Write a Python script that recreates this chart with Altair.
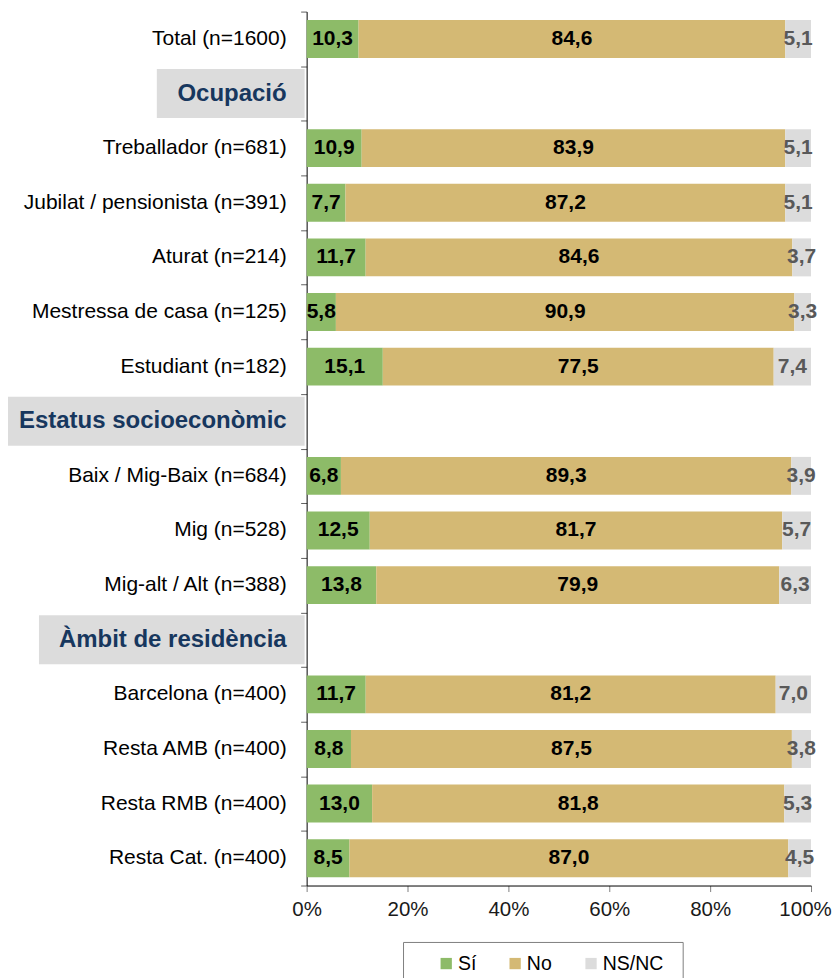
import altair as alt
import pandas as pd

rows = ["Total (n=1600)", "Ocupació", "Treballador (n=681)", "Jubilat / pensionista (n=391)",
        "Aturat (n=214)", "Mestressa de casa (n=125)", "Estudiant (n=182)", "Estatus socioeconòmic",
        "Baix / Mig-Baix (n=684)", "Mig (n=528)", "Mig-alt / Alt (n=388)", "Àmbit de residència",
        "Barcelona (n=400)", "Resta AMB (n=400)", "Resta RMB (n=400)", "Resta Cat. (n=400)"]
headers = ["Ocupació", "Estatus socioeconòmic", "Àmbit de residència"]
series = ["Sí", "No", "NS/NC"]
si = [10.3, None, 10.9, 7.7, 11.7, 5.8, 15.1, None, 6.8, 12.5, 13.8, None, 11.7, 8.8, 13.0, 8.5]
no = [84.6, None, 83.9, 87.2, 84.6, 90.9, 77.5, None, 89.3, 81.7, 79.9, None, 81.2, 87.5, 81.8, 87.0]
nsnc = [5.1, None, 5.1, 5.1, 3.7, 3.3, 7.4, None, 3.9, 5.7, 6.3, None, 7.0, 3.8, 5.3, 4.5]
colors = ["#8DBB68", "#D4B974", "#DCDCDC"]

# style: left extent (px from plot edge) of the grey header boxes
header_box_left = {"Ocupació": 150, "Estatus socioeconòmic": 299, "Àmbit de residència": 268}

FONT = "Liberation Sans"

recs = []
for i, r in enumerate(rows):
    if r in headers:
        continue
    for k, (s, vals) in enumerate(zip(series, [si, no, nsnc])):
        v = vals[i]
        recs.append({"row": r, "serie": s, "value": v, "order": k,
                     "label": f"{v:.1f}".replace(".", ",")})
df = pd.DataFrame(recs)
cat_df = pd.DataFrame({"row": [r for r in rows if r not in headers]})
hdr_df = pd.DataFrame({"row": headers})

yscale = alt.Scale(domain=rows, paddingInner=0, paddingOuter=0)
y_enc = alt.Y("row:N", scale=yscale, sort=rows,
              axis=alt.Axis(labels=False, ticks=True, tickBand="extent", tickSize=6,
                            tickColor="#606060", domainColor="black", title=None, grid=False))

base = alt.Chart(df).transform_stack(
    stack="value", groupby=["row"], as_=["v0", "v1"], offset="normalize",
    sort=[alt.SortField("order", order="ascending")]
)

bars = base.mark_bar(size=38).encode(
    y=y_enc,
    x=alt.X("v0:Q", scale=alt.Scale(domain=[0, 1], nice=False),
            axis=alt.Axis(values=[0, 0.2, 0.4, 0.6, 0.8, 1.0], format=".0%", tickSize=6,
                          labelFontSize=20.5, labelFont=FONT, labelColor="#1a1a1a",
                          labelFlush=False, labelPadding=8, domainColor="black",
                          labelOffset={"condition": {"test": "datum.value == 1", "value": -6},
                                       "value": 0},
                          tickColor="#808080", grid=False, title=None)),
    x2="v1:Q",
    color=alt.Color("serie:N", scale=alt.Scale(domain=series, range=colors),
                    legend=alt.Legend(title=None, orient="none", legendX=130, legendY=943,
                                      direction="horizontal", symbolType="square",
                                      symbolSize=128, symbolStrokeWidth=0,
                                      labelFontSize=19.5, labelFont=FONT, labelColor="black",
                                      labelOffset=2, columnPadding=29, padding=0)),
    order=alt.Order("order:Q"),
)

vals = base.transform_calculate(mid="(datum.v0 + datum.v1) / 2").mark_text(
    font=FONT, fontSize=21, fontWeight="bold", baseline="middle", align="center"
).encode(
    y=alt.Y("row:N", scale=yscale, sort=rows),
    x=alt.X("mid:Q"),
    text="label:N",
    color=alt.condition("datum.serie == 'NS/NC'", alt.value("#595959"), alt.value("black")),
)

cat_labels = alt.Chart(cat_df).mark_text(
    font=FONT, fontSize=21, align="right", baseline="middle", color="black"
).encode(y=alt.Y("row:N", scale=yscale, sort=rows), x=alt.value(-20), text="row:N")

layers = [bars, vals, cat_labels]
for h in headers:
    box = alt.Chart(hdr_df).transform_filter(alt.datum.row == h).mark_bar(
        size=49, color="#DCDCDC"
    ).encode(y=alt.Y("row:N", scale=yscale, sort=rows),
             x=alt.value(-header_box_left[h]), x2=alt.value(-2))
    layers.append(box)

hdr_labels = alt.Chart(hdr_df).mark_text(
    font=FONT, fontSize=24, fontWeight="bold", align="right", baseline="middle", color="#17375E"
).encode(y=alt.Y("row:N", scale=yscale, sort=rows), x=alt.value(-20), text="row:N")
layers.append(hdr_labels)

frame = alt.Chart(alt.Data(values=[{}])).mark_rect(
    fill="white", fillOpacity=0, stroke="#808080", strokeWidth=1
).encode(x=alt.value(97), x2=alt.value(377), y=alt.value(932), y2=alt.value(974))
layers.append(frame)

chart = alt.layer(*layers).properties(
    width=505, height=875, padding={"top": 2, "left": 0, "right": 0, "bottom": 0}
).configure_view(stroke=None)

chart.save("out.html", embed_options={"renderer": "svg", "actions": False})
